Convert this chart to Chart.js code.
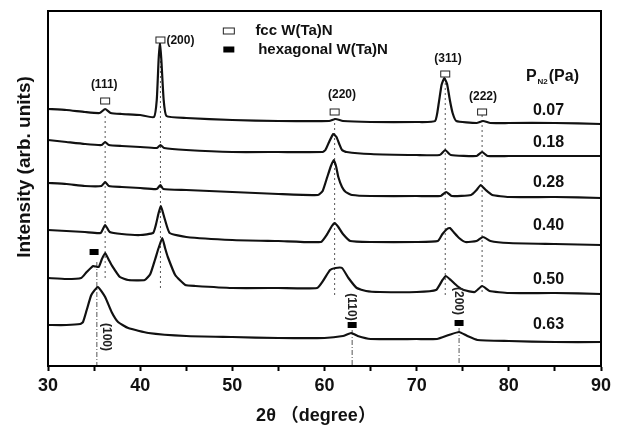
<!DOCTYPE html>
<html><head><meta charset="utf-8">
<script src="https://cdn.jsdelivr.net/npm/chart.js@4.4.0/dist/chart.umd.min.js"></script>
<style>html,body{margin:0;padding:0;background:#fff;}#wrap{width:620px;height:426px;position:relative;}</style>
</head><body><div id="wrap"><canvas id="c"></canvas></div>
<script>
// ---- data (2θ in degrees, intensity in arbitrary units) ----
const xTickLabels = [30, 40, 50, 60, 70, 80, 90];
const pressures = ['0.07', '0.18', '0.28', '0.40', '0.50', '0.63'];
const pressureLabelI = [255, 223, 183, 140, 86, 41];

const s007 = [[30,257],[32,256],[34,254],[35.6,253],[36.2,257],[36.8,253],[38,252],[40,251],[41.5,249],[41.8,266],[42.0,306],[42.15,324],[42.3,306],[42.55,266],[42.85,250],[45,248],[50,246],[55,245],[60.5,245],[61.2,247],[62,245],[65,244],[70,244],[72.0,245],[72.4,263],[72.7,281],[73.0,288],[73.3,282],[73.6,266],[73.9,253],[74.3,245],[76.5,243],[77.2,245],[78,243],[80,243],[85,243],[90,242]];
const s018 = [[30,226],[32,224],[34,222],[35.8,221],[36.2,224],[36.6,221],[38,220],[40,219],[41.8,218],[42.2,221],[42.6,218],[45,216],[50,214],[55,214],[59.8,214],[60.1,216],[60.5,224],[60.95,232],[61.3,229],[61.6,222],[61.9,216],[62.4,214],[65,212],[70,211],[72.5,211],[73.1,216],[73.7,211],[76.5,210],[77.1,214],[77.7,210],[80,210],[85,210],[90,210]];
const s028 = [[30,183],[32,182],[34,180],[35.8,180],[36.2,184],[36.6,180],[38,179],[40,178],[41.8,177],[42.2,181],[42.5,177],[45,176],[50,174],[55,172],[59.3,171],[59.8,175],[60.3,189],[60.7,200],[61.0,206],[61.25,200],[61.5,189],[61.9,179],[62.3,174],[63,171],[65,170],[70,170],[72.6,170],[73.2,174],[73.8,170],[75.9,171],[76.5,176],[76.95,181],[77.5,176],[78.2,171],[80,169],[85,169],[90,168]];
const s040 = [[30,136],[32,135],[34,134],[35.7,133],[36.2,141],[36.7,134],[38,132],[40,131],[41.4,133],[41.7,141],[42.0,153],[42.25,160],[42.45,154],[42.7,146],[43.2,133],[45,129],[50,126],[55,125],[59.6,124],[60.3,132],[60.8,140],[61.1,143],[61.5,139],[62.0,132],[62.8,125],[65,124],[70,124],[72.3,125],[72.8,132],[73.3,137],[73.6,138],[74.0,134],[74.6,128],[75.3,124],[76.5,125],[77.2,129],[78.0,125],[80,123],[85,122],[90,121]];
const s050 = [[30,88],[32,87],[33.6,88],[34.2,94],[34.9,100],[35.5,99],[35.85,107],[36.2,113],[36.55,107],[36.9,101],[37.8,89],[38.7,86],[40.5,86],[41.1,92],[41.6,106],[42.0,118],[42.4,128],[42.7,118],[43.0,109],[43.8,91],[44.9,81],[46,80],[50,78],[55,78],[59.2,78],[59.9,86],[60.6,96],[61.2,98],[61.9,98],[62.6,88],[63.5,78],[64.5,75],[66,74],[70,74],[72.1,76],[72.8,86],[73.15,90],[73.7,86],[74.4,80],[75.1,76],[76.3,74],[77.1,80],[77.9,75],[80,73],[85,73],[90,72]];
const s063 = [[30,41],[32,41],[33.5,42],[33.8,44],[34.2,56],[34.7,71],[35.4,79],[36.2,69],[36.9,54],[37.6,44],[38.7,38],[40.9,33],[45,30],[50,29],[55,28],[60,28],[62,30],[62.9,33],[63.6,30],[65,27],[70,27],[72.2,27],[73.5,31],[74.6,34],[75.5,30],[76.6,26],[80,25],[85,24],[90,24]];
const seriesList = [s007, s018, s028, s040, s050, s063];

// fcc W(Ta)N reflections
const fccPos = [36.2, 42.2, 61.1, 73.1, 77.1];
const fccHkl = ['(111)', '(200)', '(220)', '(311)', '(222)'];
const fccMarkerI = [265, 326, 254, 292, 254];
const fccLabelX = [36.1, 42.2, 61.9, 73.4, 77.2];
const fccLabelI = [281, 326, 271, 307, 269];
const fccGuideTop = [250, 320, 253, 288, 251];
const fccGuideBottom = [86, 78, 71, 69, 71];

// hexagonal W(Ta)N reflections
const hexPos = [35.3, 63.0, 74.6];
const hexHkl = ['(100)', '(110)', '(200)'];
const hexMarkerX = [35.0, 63.0, 74.6];
const hexMarkerI = [114, 41, 43];
const hexLabelX = [36.3, 62.9, 74.5];
const hexLabelI = [29, 59, 65];
const hexGuideTop = [104, 36, 38];

const FONT = 'Arial, "Liberation Sans", "Noto Sans CJK SC", sans-serif';

const datasets = [];
seriesList.forEach(s => datasets.push({
  data: s.map(p => ({x: p[0], y: p[1]})),
  borderColor: '#111', borderWidth: 2.2, pointRadius: 0, tension: 0.15, order: 0, fill: false
}));
fccPos.forEach((x, i) => datasets.push({
  data: [{x: x, y: fccGuideTop[i]}, {x: x, y: fccGuideBottom[i]}],
  borderColor: '#555', borderWidth: 1, borderDash: [2, 3], pointRadius: 0, order: 1
}));
hexPos.forEach((x, i) => datasets.push({
  data: [{x: x, y: hexGuideTop[i]}, {x: x, y: 0}],
  borderColor: '#555', borderWidth: 1, borderDash: [5, 2, 1, 2], pointRadius: 0, order: 1
}));

const overlay = {
  id: 'overlay',
  afterDraw(chart) {
    const ctx = chart.ctx, xs = chart.scales.x, ys = chart.scales.y, a = chart.chartArea;
    const X = v => xs.getPixelForValue(v), Y = v => ys.getPixelForValue(v);
    ctx.save();
    ctx.strokeStyle = '#000'; ctx.lineWidth = 2;
    ctx.strokeRect(a.left, a.top, a.right - a.left, a.bottom - a.top);
    ctx.fillStyle = '#111';
    ctx.textAlign = 'center'; ctx.textBaseline = 'middle';
    // fcc markers and labels
    fccPos.forEach((x, i) => {
      ctx.fillStyle = '#fff'; ctx.strokeStyle = '#222'; ctx.lineWidth = 1;
      ctx.fillRect(X(x) - 4.5, Y(fccMarkerI[i]) - 3, 9, 6);
      ctx.strokeRect(X(x) - 4.5, Y(fccMarkerI[i]) - 3, 9, 6);
      ctx.fillStyle = '#111';
      ctx.font = 'bold 12px ' + FONT;
      if (i === 1) { ctx.textAlign = 'left'; ctx.fillText(fccHkl[i], X(x) + 6, Y(fccLabelI[i]) + 1); ctx.textAlign = 'center'; }
      else ctx.fillText(fccHkl[i], X(fccLabelX[i]), Y(fccLabelI[i]));
    });
    // hex markers and labels
    hexMarkerX.forEach((x, i) => {
      ctx.fillStyle = '#000';
      ctx.fillRect(X(x) - 4.5, Y(hexMarkerI[i]) - 3, 9, 6);
      ctx.save();
      ctx.translate(X(hexLabelX[i]), Y(hexLabelI[i]));
      ctx.rotate(Math.PI / 2);
      ctx.font = 'bold 12px ' + FONT;
      ctx.fillStyle = '#222';
      ctx.fillText(hexHkl[i], 0, 0);
      ctx.restore();
    });
    // pressure labels
    ctx.fillStyle = '#111';
    ctx.font = 'bold 16px ' + FONT;
    pressures.forEach((p, i) => ctx.fillText(p, X(84.3), Y(pressureLabelI[i])));
    // P_N2 (Pa)
    ctx.textAlign = 'left';
    const px0 = X(81.85), py0 = Y(289);
    ctx.font = 'bold 16px ' + FONT;
    ctx.fillText('P', px0, py0);
    const wP = ctx.measureText('P').width;
    ctx.font = 'bold 8px ' + FONT;
    ctx.fillText('N2', px0 + wP + 1, py0 + 5);
    const wN = ctx.measureText('N2').width;
    ctx.font = 'bold 16px ' + FONT;
    ctx.fillText('(Pa)', px0 + wP + wN + 2, py0);
    // legend
    const lx = X(49.62);
    ctx.fillStyle = '#fff'; ctx.strokeStyle = '#222'; ctx.lineWidth = 1;
    ctx.fillRect(lx - 5.5, Y(335) - 3, 11, 6); ctx.strokeRect(lx - 5.5, Y(335) - 3, 11, 6);
    ctx.fillStyle = '#000'; ctx.fillRect(lx - 5.5, Y(316.5) - 3, 11, 6);
    ctx.font = 'bold 15px ' + FONT; ctx.fillStyle = '#111';
    ctx.fillText('fcc W(Ta)N', X(52.5), Y(335));
    ctx.fillText('hexagonal W(Ta)N', X(52.8), Y(316.5));
    // axis titles
    ctx.textAlign = 'center';
    ctx.font = 'bold 18px ' + FONT;
    ctx.fillText('2θ （degree）', 316, 416);
    ctx.save();
    ctx.translate(25, 167); ctx.rotate(-Math.PI / 2);
    ctx.font = 'bold 19px ' + FONT;
    ctx.fillText('Intensity (arb. units)', 0, 0);
    ctx.restore();
    ctx.restore();
  }
};

new Chart(document.getElementById('c'), {
  type: 'line',
  data: {datasets: datasets},
  options: {
    animation: false, responsive: true, maintainAspectRatio: false,
    layout: {padding: {top: 11, right: 19, left: 0, bottom: 0}},
    plugins: {legend: {display: false}, tooltip: {enabled: false}},
    scales: {
      x: {
        type: 'linear', min: 30, max: 90,
        afterFit(s) { s.height = 60; },
        ticks: {stepSize: 5, autoSkip: false, maxRotation: 0, padding: 4, color: '#111',
          font: {size: 18, weight: 'bold', family: FONT},
          callback: v => xTickLabels.includes(v) ? String(v) : ''},
        grid: {display: true, drawOnChartArea: false, drawTicks: true, tickLength: 5, tickWidth: 2, tickColor: '#000'},
        border: {display: true, color: '#000', width: 2}
      },
      y: {
        min: 0, max: 355,
        afterFit(s) { s.width = 48; },
        ticks: {display: false},
        grid: {display: false},
        border: {display: true, color: '#000', width: 2}
      }
    }
  },
  plugins: [overlay]
});
</script>
</body></html>
